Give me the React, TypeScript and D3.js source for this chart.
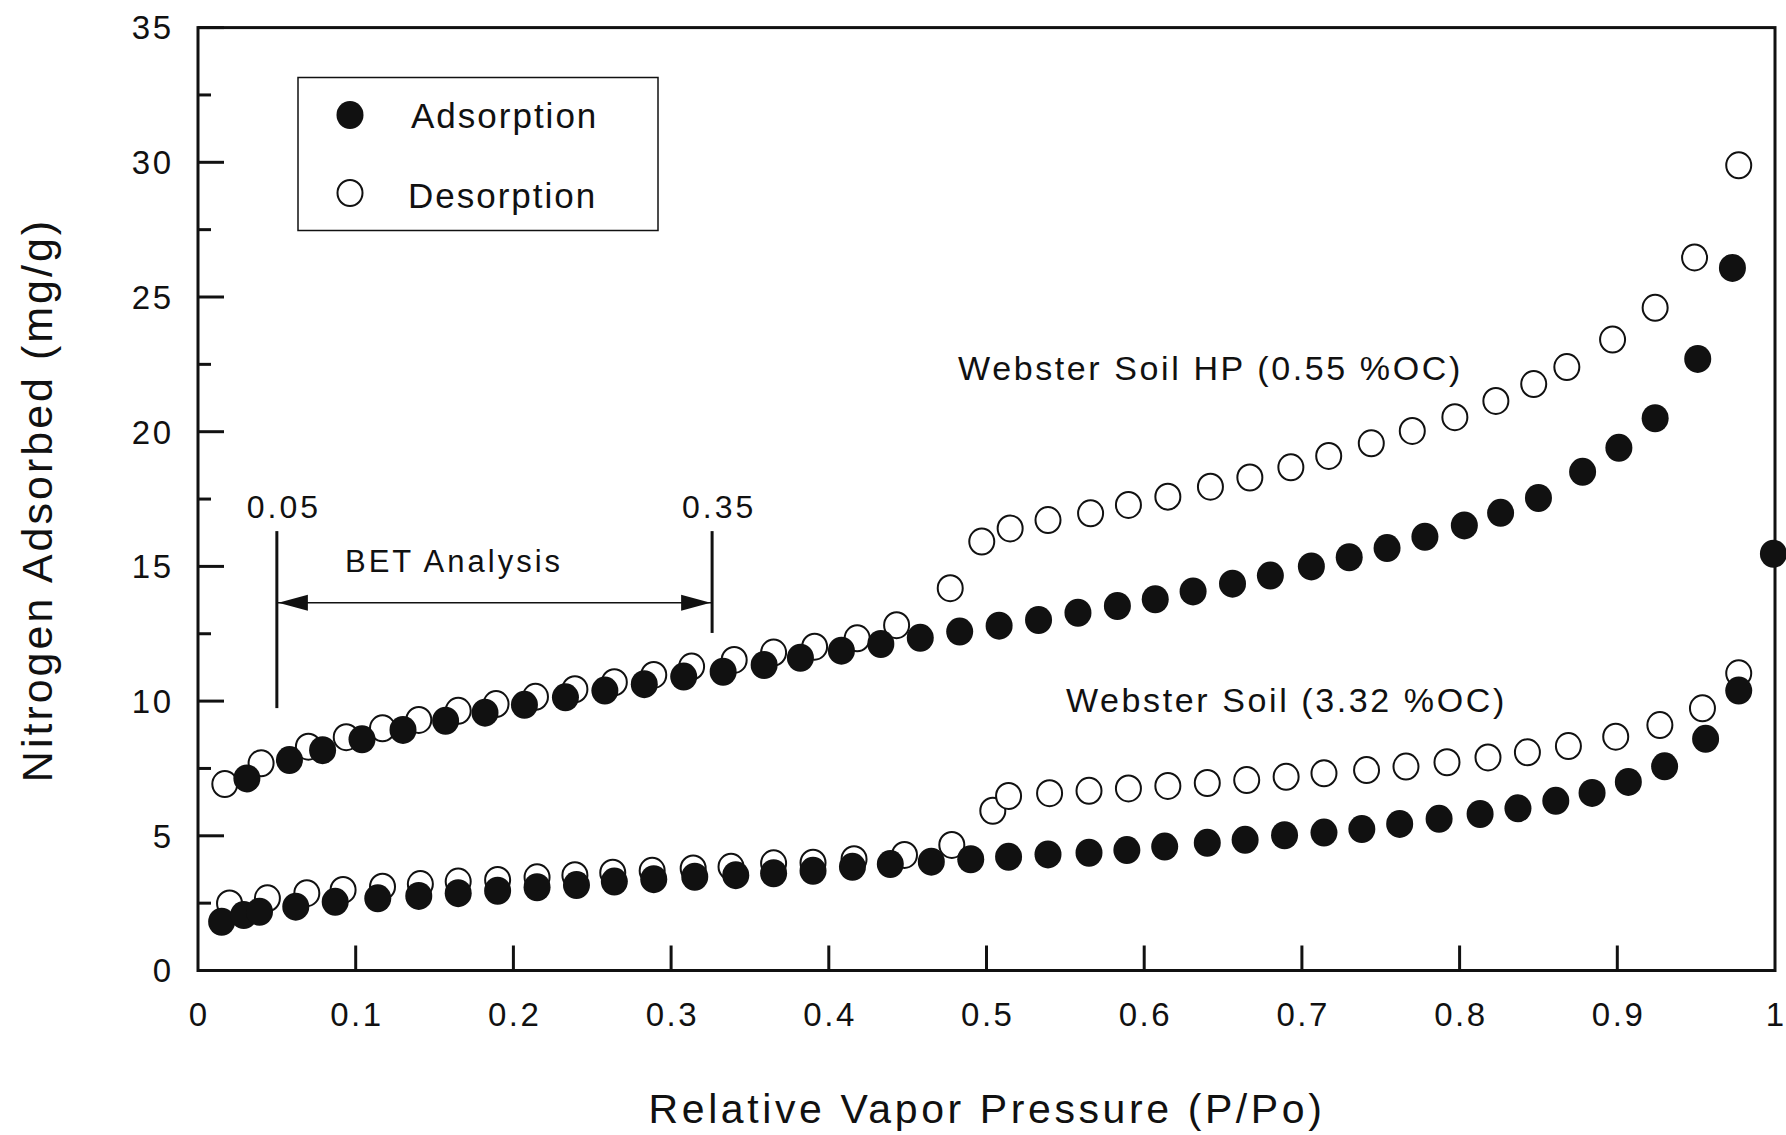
import React from "react";
import * as d3 from "d3";

// ---- Data ----
// Webster Soil HP (0.55 %OC)
const hpAdsX = [0.031,0.058,0.079,0.104,0.130,0.157,0.182,0.207,0.233,0.258,0.283,0.308,0.333,0.359,0.382,0.408,0.433,0.458,0.483,0.508,0.533,0.558,0.583,0.607,0.631,0.656,0.680,0.706,0.730,0.754,0.778,0.803,0.826,0.850,0.878,0.901,0.924,0.951,0.973,0.999];
const hpAdsY = [7.13,7.81,8.18,8.58,8.93,9.27,9.57,9.86,10.14,10.39,10.63,10.91,11.09,11.34,11.61,11.87,12.12,12.35,12.58,12.80,13.01,13.28,13.53,13.78,14.07,14.36,14.66,15.00,15.34,15.68,16.10,16.52,16.99,17.54,18.51,19.40,20.50,22.70,26.08,15.47];
const hpDesX = [0.017,0.040,0.070,0.094,0.117,0.140,0.165,0.189,0.214,0.239,0.264,0.289,0.313,0.340,0.365,0.391,0.418,0.443,0.477,0.497,0.515,0.539,0.566,0.590,0.615,0.642,0.667,0.693,0.717,0.744,0.770,0.797,0.823,0.847,0.868,0.897,0.924,0.949,0.977];
const hpDesY = [6.92,7.69,8.31,8.66,8.99,9.30,9.64,9.89,10.16,10.44,10.70,10.97,11.28,11.53,11.80,12.02,12.33,12.82,14.19,15.92,16.41,16.72,16.97,17.28,17.59,17.96,18.30,18.68,19.10,19.57,20.03,20.54,21.14,21.77,22.40,23.42,24.60,26.47,29.89];
// Webster Soil (3.32 %OC)
const wsAdsX = [0.015,0.029,0.039,0.062,0.087,0.114,0.140,0.165,0.190,0.215,0.240,0.264,0.289,0.315,0.341,0.365,0.390,0.415,0.439,0.465,0.490,0.514,0.539,0.565,0.589,0.613,0.640,0.664,0.689,0.714,0.738,0.762,0.787,0.813,0.837,0.861,0.884,0.907,0.930,0.956,0.977];
const wsAdsY = [1.81,2.06,2.18,2.37,2.55,2.68,2.77,2.87,2.96,3.09,3.17,3.30,3.39,3.48,3.54,3.61,3.70,3.85,3.95,4.04,4.13,4.22,4.31,4.37,4.47,4.60,4.74,4.85,5.02,5.12,5.25,5.44,5.63,5.81,6.02,6.30,6.59,7.00,7.58,8.60,10.39];
const wsDesX = [0.020,0.044,0.069,0.092,0.117,0.141,0.165,0.190,0.215,0.239,0.263,0.288,0.314,0.338,0.365,0.390,0.416,0.448,0.478,0.504,0.514,0.540,0.565,0.590,0.615,0.640,0.665,0.690,0.714,0.741,0.766,0.792,0.818,0.843,0.869,0.899,0.927,0.954,0.977];
const wsDesY = [2.49,2.68,2.87,2.99,3.11,3.21,3.30,3.36,3.46,3.54,3.63,3.70,3.79,3.85,3.98,4.00,4.13,4.29,4.66,5.93,6.48,6.58,6.67,6.76,6.85,6.96,7.07,7.19,7.32,7.44,7.57,7.73,7.91,8.10,8.33,8.68,9.11,9.73,11.03];

const xTicks = [0, 0.1, 0.2, 0.3, 0.4, 0.5, 0.6, 0.7, 0.8, 0.9, 1];
const xTickLabels = ["0", "0.1", "0.2", "0.3", "0.4", "0.5", "0.6", "0.7", "0.8", "0.9", "1"];
const yTicks = [0, 5, 10, 15, 20, 25, 30, 35];
const yTickLabels = ["0", "5", "10", "15", "20", "25", "30", "35"];
const yMinorTicks = [2.5, 7.5, 12.5, 17.5, 22.5, 27.5, 32.5];

const legendLabels = ["Adsorption", "Desorption"];
const seriesLabels = ["Webster Soil HP (0.55 %OC)", "Webster Soil (3.32 %OC)"];
const seriesLabelX = [0.482, 0.5504];
const seriesLabelY = [21.92, 9.6];

// BET annotation (as drawn)
const betLineX = [0.05, 0.326];
const betLineBottom = [9.74, 12.53];
const betLineTop = 16.31;
const betLabels = ["0.05", "0.35"];
const betLabelY = 16.78;
const betArrowY = 13.65;
const betText = "BET Analysis";
const betTextX = 0.0932;
const betTextY = 14.79;

const FONT = "'Liberation Sans', Arial, Helvetica, sans-serif";

export default function App() {
  const W = 1786, H = 1135;
  const x = d3.scaleLinear().domain([0, 1]).range([198, 1775]);
  const y = d3.scaleLinear().domain([0, 35]).range([970.5, 27.6]);
  const rx = 13.5, ry = 14;

  const zip = (xs: number[], ys: number[]) => xs.map((v, i) => [v, ys[i]] as [number, number]);
  const openPts = [...zip(hpDesX, hpDesY), ...zip(wsDesX, wsDesY)];
  const filledPts = [...zip(hpAdsX, hpAdsY), ...zip(wsAdsX, wsAdsY)];

  const tickLS = 2.5;
  const arrowL = x(betLineX[0]);
  const arrowR = x(betLineX[1]);
  const ay = y(betArrowY);

  return (
    <svg width={W} height={H} style={{ position: "absolute", left: 0, top: 0, background: "#fff" }} fontFamily={FONT}>
      <rect x={0} y={0} width={W} height={H} fill="#fff" />
      {/* frame */}
      <rect x={x(0)} y={y(35)} width={x(1) - x(0)} height={y(0) - y(35)} fill="none" stroke="#111" strokeWidth={3} />
      {/* y ticks */}
      {yTicks.map((t, i) => (
        <g key={"yt" + i}>
          <line x1={x(0)} x2={x(0) + 26} y1={y(t)} y2={y(t)} stroke="#111" strokeWidth={3} />
          <text x={171} dx={tickLS} y={y(t)} dy="0.36em" textAnchor="end" fontSize={33} letterSpacing={tickLS} fill="#111">{yTickLabels[i]}</text>
        </g>
      ))}
      {yMinorTicks.map((t, i) => (
        <line key={"ym" + i} x1={x(0)} x2={x(0) + 13} y1={y(t)} y2={y(t)} stroke="#111" strokeWidth={3} />
      ))}
      {/* x ticks */}
      {xTicks.map((t, i) => (
        <g key={"xt" + i}>
          {t > 0 && t < 1 && <line x1={x(t)} x2={x(t)} y1={y(0)} y2={y(0) - 25} stroke="#111" strokeWidth={3} />}
          <text x={x(t)} dx={tickLS / 2} y={1026} textAnchor="middle" fontSize={33} letterSpacing={tickLS} fill="#111">{xTickLabels[i]}</text>
        </g>
      ))}
      {/* axis titles */}
      <text x={987} y={1123} textAnchor="middle" fontSize={41} letterSpacing={3.6} fill="#111">Relative Vapor Pressure (P/Po)</text>
      <text transform={`translate(52,500) rotate(-90)`} textAnchor="middle" fontSize={43} letterSpacing={3} fill="#111">Nitrogen Adsorbed (mg/g)</text>

      {/* BET annotation */}
      {betLineX.map((v, i) => (
        <g key={"bet" + i}>
          <line x1={x(v)} x2={x(v)} y1={y(betLineTop)} y2={y(betLineBottom[i])} stroke="#111" strokeWidth={3} />
          <text x={x(v) + 7} y={y(betLabelY)} textAnchor="middle" fontSize={32} letterSpacing={3} fill="#111">{betLabels[i]}</text>
        </g>
      ))}
      <line x1={arrowL} x2={arrowR} y1={ay} y2={ay} stroke="#111" strokeWidth={1.5} />
      <path d={`M${arrowL + 1.5},${ay} L${arrowL + 31},${ay - 8} L${arrowL + 31},${ay + 8} Z`} fill="#111" />
      <path d={`M${arrowR - 1.5},${ay} L${arrowR - 31},${ay - 8} L${arrowR - 31},${ay + 8} Z`} fill="#111" />
      <text x={x(betTextX)} y={y(betTextY)} fontSize={31} letterSpacing={3} fill="#111">{betText}</text>

      {/* series labels */}
      {seriesLabels.map((s, i) => (
        <text key={"sl" + i} x={x(seriesLabelX[i])} y={y(seriesLabelY[i])} fontSize={34} letterSpacing={2.6} fill="#111">{s}</text>
      ))}

      {/* data: open first, filled on top */}
      {openPts.map((p, i) => (
        <ellipse key={"o" + i} cx={x(p[0])} cy={y(p[1])} rx={rx - 1} ry={ry - 1} fill="#fff" stroke="#111" strokeWidth={2} />
      ))}
      {filledPts.map((p, i) => (
        <ellipse key={"f" + i} cx={x(p[0])} cy={y(p[1])} rx={rx} ry={ry} fill="#111" />
      ))}

      {/* legend */}
      <rect x={298} y={77.5} width={360} height={153} fill="#fff" stroke="#111" strokeWidth={1.5} />
      <ellipse cx={350} cy={115} rx={rx} ry={ry} fill="#111" />
      <ellipse cx={350} cy={193} rx={rx - 1} ry={ry - 1} fill="#fff" stroke="#111" strokeWidth={2} />
      <text x={411} y={128} fontSize={35} letterSpacing={2} fill="#111">{legendLabels[0]}</text>
      <text x={408} y={208} fontSize={35} letterSpacing={2} fill="#111">{legendLabels[1]}</text>
    </svg>
  );
}
